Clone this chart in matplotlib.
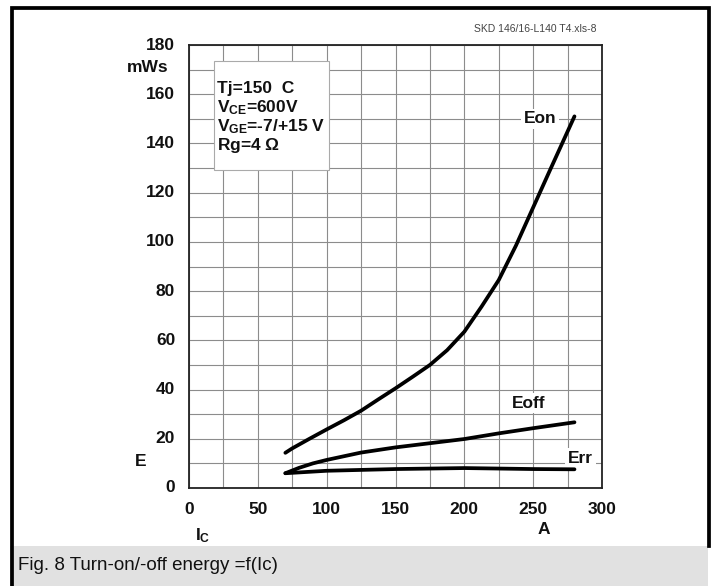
import matplotlib
matplotlib.use("Agg")
import matplotlib.pyplot as plt
from matplotlib.patches import Rectangle
from matplotlib.lines import Line2D

plt.rcParams['font.family'] = ['Liberation Sans', 'DejaVu Sans']
plt.rcParams['mathtext.fontset'] = 'custom'
plt.rcParams['mathtext.rm'] = 'Liberation Sans:bold'
plt.rcParams['mathtext.it'] = 'Liberation Sans:bold'
plt.rcParams['mathtext.bf'] = 'Liberation Sans:bold'

# values (Ic in A, E in mWs)
ic_eon = [70, 75, 87.5, 100, 112.5, 125, 137.5, 150, 162.5, 175, 187.5, 200,
          212.5, 225, 237.5, 250, 262.5, 280]
eon = [14.3, 16.1, 20.0, 23.8, 27.5, 31.4, 36.0, 40.5, 45.2, 50.0, 56.0, 63.5,
       73.7, 84.5, 98.5, 114.0, 129.5, 151.0]

ic_eoff = [70, 80, 90, 100, 125, 150, 175, 200, 225, 250, 280]
eoff = [6.0, 8.2, 10.0, 11.4, 14.4, 16.5, 18.2, 19.9, 22.2, 24.3, 26.7]

ic_err = [70, 100, 150, 200, 250, 280]
err = [6.0, 7.0, 7.7, 8.1, 7.7, 7.6]

x_ticks = [0, 50, 100, 150, 200, 250, 300]
y_ticks = [0, 20, 40, 60, 80, 100, 120, 140, 160, 180]

W, H = 717, 586
fig = plt.figure(figsize=(W / 100, H / 100), dpi=100)

def px(x, y):
    # pixel position (from top-left) -> figure fraction
    return x / W, 1 - y / H

# caption band and outer frame (no bottom edge)
fig.patches.append(Rectangle(px(10, 586), 698 / W, 40 / H, transform=fig.transFigure,
                             facecolor='#e1e1e1', edgecolor='none', zorder=0))
frame_x = [11.5, 11.5, 708.5, 708.5]
frame_y = [586, 8, 8, 546]
fig.lines.append(Line2D([x / W for x in frame_x], [1 - y / H for y in frame_y],
                        transform=fig.transFigure, color='black', linewidth=2.7,
                        solid_joinstyle='miter'))

l, t = px(189, 45)
r, b = px(602, 488)
ax = fig.add_axes([l, b, r - l, t - b])

for xs, ys in [(ic_eon, eon), (ic_eoff, eoff), (ic_err, err)]:
    ax.plot(xs, ys, color='black', lw=2.7, solid_capstyle='round',
            solid_joinstyle='round', zorder=4)

ax.set_xlim(0, 300)
ax.set_ylim(0, 180)
ax.set_xticks(range(0, 301, 25))
ax.set_yticks(range(0, 181, 10))
ax.grid(True, color='#8c8c8c', lw=0.8)
ax.set_axisbelow(True)
ax.set_xticklabels([])
ax.set_yticklabels([])
ax.tick_params(length=0)
for s in ax.spines.values():
    s.set_linewidth(1.3)
    s.set_color('#222222')

bold = dict(fontweight='bold', fontsize=12.5, color='#111111')
for v in x_ticks:
    ax.text(v, -8.8, str(v), ha='center', va='center', **bold)
for v in y_ticks:
    ax.text(-10, v, str(v), ha='right', va='center', **bold)

fig.text(*px(168, 68), 'mWs', ha='right', va='center', **bold)
fig.text(*px(141, 461), 'E', ha='center', va='center', **bold)
fig.text(*px(195, 540), 'I$_{C}$', ha='left', va='baseline', **bold)
fig.text(*px(544, 529), 'A', ha='center', va='center', **bold)

# curve labels with white background cutting the grid
lab_box = dict(facecolor='white', edgecolor='none', pad=2)
ax.text(255, 150, 'Eon', ha='center', va='center', bbox=lab_box, zorder=3, **bold)
ax.text(247, 34.5, 'Eoff', ha='center', va='center', bbox=lab_box, zorder=3, **bold)
ax.text(284.5, 12, 'Err', ha='center', va='center', bbox=lab_box, zorder=3, **bold)

# condition box
ax.add_patch(Rectangle((18.2, 129.2), 83.5, 44.3, facecolor='white',
                       edgecolor='#aaaaaa', lw=0.8, zorder=3))
cond = ['Tj=150  C', 'V$_{CE}$=600V', 'V$_{GE}$=-7/+15 V', 'Rg=4 $\\Omega$']
cond_base = [92.7, 112.3, 131, 150]
for s, y in zip(cond, cond_base):
    fig.text(*px(217, y), s, ha='left', va='baseline', zorder=5, **bold)

fig.text(*px(535, 29), 'SKD 146/16-L140 T4.xls-8', ha='center', va='center',
         fontsize=7.5, color='#444444')
fig.text(*px(18, 566), 'Fig. 8 Turn-on/-off energy =f(Ic)', ha='left', va='center',
         fontsize=13.5, color='#111111')

fig.savefig('out.png', dpi=100)
